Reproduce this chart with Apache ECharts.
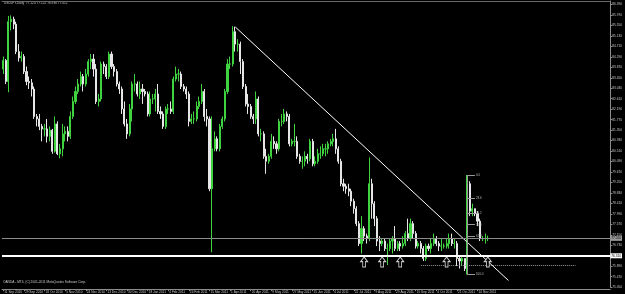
<!DOCTYPE html>
<html><head><meta charset="utf-8">
<script src="https://cdn.jsdelivr.net/npm/echarts@6/dist/echarts.min.js"></script>
<style>html,body{margin:0;padding:0;background:#000;}#c{width:625px;height:294px;}</style>
</head><body><div id="c"></div>
<script>
// Date labels of the time scale (one every 8 candles)
const tickLabels = ['11 Sep 2010','29 Sep 2010','18 Oct 2010','5 Nov 2010','24 Nov 2010','13 Dec 2010','30 Dec 2010','18 Jan 2011','4 Feb 2011','24 Feb 2011','15 Mar 2011','1 Apr 2011','20 Apr 2011','9 May 2011','27 May 2011','15 Jun 2011','4 Jul 2011','22 Jul 2011','9 Aug 2011','29 Aug 2011','15 Sep 2011','4 Oct 2011','21 Oct 2011','10 Nov 2011'];
const labelEvery = 8;
const slotCount = 236;
// USDJPY candles [open, close, low, high]
const candles = [
[83.80,84.15,83.60,84.30],[84.15,83.30,83.20,84.20],[83.30,85.70,82.87,85.93],[85.70,85.80,85.35,85.95],
[85.80,85.60,85.40,85.90],[85.60,84.50,84.40,85.70],[84.50,84.25,84.10,84.80],[84.25,84.30,84.10,84.50],
[84.30,83.70,83.60,84.40],[83.70,83.30,83.15,83.90],[83.30,83.25,83.00,83.50],[83.25,83.00,82.70,83.40],
[83.00,81.90,81.80,83.10],[81.90,81.80,81.50,82.00],[81.80,81.50,81.35,82.00],[81.50,81.40,80.90,81.60],
[81.40,81.40,81.10,81.60],[81.40,81.10,80.85,81.80],[81.10,81.35,80.90,81.50],[81.35,80.50,80.40,81.40],
[80.50,81.60,80.45,81.90],[81.60,80.40,80.35,81.70],[80.40,80.60,80.22,80.80],[80.60,81.20,80.30,81.60],
[81.20,81.30,80.90,81.50],[81.30,81.10,80.90,81.50],[81.10,81.90,81.00,82.10],[81.90,82.50,81.80,82.70],
[82.50,82.90,82.40,83.10],[82.90,83.20,82.80,83.40],[83.20,83.50,83.10,83.70],[83.50,83.20,82.90,83.60],
[83.20,83.60,83.10,83.80],[83.60,84.10,83.50,84.20],[84.10,84.20,83.80,84.40],[84.20,83.80,83.50,84.40],
[83.80,82.50,82.40,84.00],[82.50,82.60,82.30,82.80],[82.60,84.00,82.50,84.10],[84.00,83.90,83.60,84.10],
[83.90,83.50,83.40,84.00],[83.50,84.40,83.40,84.50],[84.40,83.90,83.80,84.50],[83.90,83.70,83.50,84.00],
[83.70,83.20,83.10,83.80],[83.20,83.00,82.80,83.30],[83.00,82.20,82.00,83.10],[82.20,81.60,81.50,82.50],
[81.60,81.20,81.00,81.80],[81.20,82.20,81.10,82.40],[82.20,83.20,81.70,83.30],[83.20,83.20,82.90,83.60],
[83.20,82.80,82.70,83.30],[82.80,83.00,82.60,83.30],[83.00,82.90,82.40,83.20],[82.90,82.80,82.70,83.00],
[82.80,82.00,81.90,82.90],[82.00,82.60,81.90,82.90],[82.60,82.60,82.40,82.80],[82.60,82.80,82.10,83.00],
[82.80,82.10,82.00,83.20],[82.10,82.00,81.80,82.30],[82.00,81.50,81.40,82.10],[81.50,82.20,81.40,82.30],
[82.20,82.20,82.00,82.40],[82.20,82.10,82.00,82.50],[82.10,83.40,82.00,83.50],[83.40,83.60,83.30,83.90],
[83.60,83.60,83.30,83.80],[83.60,83.10,83.00,83.70],[83.10,83.00,82.90,83.20],[83.00,82.80,82.60,83.10],
[82.80,81.70,81.50,82.90],[81.70,81.80,81.60,82.00],[81.80,81.80,81.60,82.10],[81.80,82.30,81.70,82.50],
[82.30,82.50,82.20,82.70],[82.50,82.90,82.40,83.20],[82.90,81.90,81.70,83.00],[81.90,81.80,81.50,82.20],
[81.80,79.00,78.90,81.90],[79.00,80.60,76.45,81.90],[80.60,81.00,80.50,81.30],[81.00,80.60,80.50,81.10],
[80.60,81.50,80.50,81.60],[81.50,81.80,81.40,81.90],[81.80,82.90,81.70,83.00],[82.90,84.00,82.80,84.20],
[84.00,84.00,83.80,84.30],[84.00,85.30,83.90,85.52],[85.30,84.80,84.50,85.50],[84.80,84.80,84.50,85.00],
[84.80,84.10,83.60,84.90],[84.10,83.10,83.00,84.20],[83.10,82.40,82.30,83.20],[82.40,82.30,82.00,82.80],
[82.30,81.90,81.80,82.40],[81.90,81.80,81.60,82.00],[81.80,82.60,81.60,82.90],[82.60,81.20,81.10,82.70],
[81.20,81.20,80.90,81.40],[81.20,80.30,80.20,81.30],[80.30,80.10,79.60,80.60],[80.10,80.30,80.00,80.40],
[80.30,80.90,80.20,81.20],[80.90,80.80,80.60,81.10],[80.80,80.60,80.40,80.90],[80.60,81.70,80.50,81.80],
[81.70,81.70,81.50,82.00],[81.70,82.00,81.60,82.20],[82.00,81.90,81.70,82.10],[81.90,80.80,80.70,82.00],
[80.80,80.90,80.70,81.00],[80.90,80.90,80.70,81.60],[80.90,80.30,80.20,81.10],[80.30,80.10,80.00,80.40],
[80.10,80.10,79.80,80.30],[80.10,80.30,79.90,80.50],[80.30,80.20,80.00,80.40],[80.20,80.90,80.10,81.00],
[80.90,80.00,79.90,81.00],[80.00,80.10,79.90,80.30],[80.10,80.40,80.00,80.60],[80.40,80.40,80.20,80.70],
[80.40,80.60,80.30,80.80],[80.60,80.60,80.30,80.80],[80.60,80.80,80.40,80.90],[80.80,80.90,80.70,81.00],
[80.90,81.00,80.70,81.20],[81.00,80.60,80.40,81.40],[80.60,80.10,80.00,80.70],[80.10,79.20,79.10,80.20],
[79.20,79.10,78.90,79.40],[79.10,79.00,78.80,79.20],[79.00,78.90,78.70,79.20],[78.90,78.50,78.30,79.00],
[78.50,78.20,78.00,78.60],[78.20,77.60,77.50,78.30],[77.60,76.80,76.70,77.70],[76.80,77.40,76.40,77.90],
[77.40,77.10,76.90,77.50],[77.10,77.00,76.80,77.20],[77.00,79.20,76.90,80.25],[79.20,78.40,77.80,79.40],
[78.40,77.80,77.50,78.50],[77.80,76.90,76.70,77.90],[76.90,76.80,76.50,77.10],[76.80,76.90,76.70,77.00],
[76.90,76.60,76.50,77.00],[76.60,76.60,75.94,76.80],[76.60,76.90,76.50,77.00],[76.90,77.00,76.40,77.10],
[77.00,76.60,76.50,77.50],[76.60,76.80,76.50,76.90],[76.80,76.70,76.50,76.90],[76.70,76.80,76.60,77.10],
[76.80,77.20,76.70,77.30],[77.20,77.00,76.90,77.80],[77.00,77.60,76.90,77.80],[77.60,77.20,77.00,77.70],
[77.20,76.70,76.60,77.30],[76.70,76.80,76.60,76.90],[76.80,76.60,76.40,76.90],[76.60,76.20,76.10,76.70],
[76.20,76.70,76.10,76.80],[76.70,76.60,76.50,76.80],[76.60,76.80,76.40,77.00],[76.80,77.00,76.70,77.20],
[77.00,76.80,76.70,77.10],[76.80,76.70,76.50,76.90],[76.70,76.70,76.50,77.00],[76.70,76.70,76.60,76.80],
[76.70,76.80,76.60,77.00],[76.80,77.00,76.60,77.20],[77.00,76.80,76.70,77.20],[76.80,76.80,76.60,77.00],
[76.80,76.20,75.90,76.90],[76.20,76.10,75.80,76.30],[76.10,76.20,75.90,76.30],[76.20,75.80,75.70,76.20],
[75.80,79.20,75.56,79.55],[79.20,78.10,77.90,79.30],[78.10,78.20,77.90,78.40],[78.20,78.00,77.90,78.20],
[78.00,77.70,77.50,78.10],[77.70,77.00,76.90,77.80],[77.00,77.00,76.90,77.10],[77.00,77.00,76.80,77.20],
[77.00,77.01,76.90,77.12]
];
// Drawn objects
const bidLevel = 77.01;
const supportLevel = 76.31;
const dottedLevel = 75.94;
const trendStart = [90, 85.49];
const trendEnd = [196, 75.32];
const arrowBars = [140, 147, 154, 172, 188];
const arrowPrices = [76.06, 76.06, 76.06, 76.06, 76.06];
const fibBar = 180;
const fibHigh = 79.55, fibLow = 75.56;
const fibLevels = [0, 23.6, 38.2, 50.0, 61.8, 100.0];
// Price scale
const priceMin = 75.05, priceMax = 86.53, priceStep = 0.42;

const categories = Array.from({length: slotCount}, (_, i) => 'b' + i);
const showTick = (i) => i % labelEvery === 0 && i / labelEvery < tickLabels.length;
const FONT = 'Liberation Sans';
const txt = '#c8c8c8';

const ls = (color, width, type) => ({color: color, width: width, type: type || 'solid', opacity: 1});
const seg = (a, b, style, extra) => [Object.assign({coord: a, lineStyle: style}, extra || {}), Object.assign({coord: b, lineStyle: style}, extra || {})];
const markData = [
  seg([162, dottedLevel], [222, dottedLevel], ls('#9a9a9a', 1, [1, 1])),
  seg(trendStart, trendEnd, ls('#ffffff', 1)),
  seg([fibBar, fibHigh], [fibBar, fibLow], ls('#9a9a9a', 1))
];
fibLevels.forEach(l => {
  const p = fibHigh - (fibHigh - fibLow) * l / 100;
  markData.push(seg([fibBar, p], [fibBar + 3, p], ls('#9a9a9a', 1),
    {label: {show: true, position: 'end', formatter: l.toFixed(1), color: '#bdbdbd', fontSize: 3, fontFamily: FONT, distance: 1}}));
});

const chart = echarts.init(document.getElementById('c'), null, {renderer: 'canvas'});
chart.setOption({
  backgroundColor: '#000000',
  animation: false,
  grid: {left: 2, right: 13, top: 1, bottom: 6.8},
  xAxis: [{
    type: 'category', data: categories, boundaryGap: true, offset: 2,
    axisLine: {lineStyle: {color: '#8c8c8c'}},
    axisTick: {show: true, interval: showTick, alignWithLabel: true, length: 2, lineStyle: {color: '#8c8c8c'}},
    axisLabel: {interval: showTick, formatter: (v, i) => tickLabels[i / labelEvery] || '', color: txt, fontSize: 3.2,
      fontFamily: FONT, align: 'left', margin: 1, padding: [0, 0, 0, 1]},
    splitLine: {show: false}
  }, {
    type: 'category', data: categories, position: 'top',
    axisLine: {lineStyle: {color: '#6a6a6a'}}, axisTick: {show: false}, axisLabel: {show: false}
  }],
  yAxis: {
    type: 'value', position: 'right', min: priceMin, max: priceMax, interval: priceStep, scale: true,
    axisLine: {show: true, lineStyle: {color: '#8c8c8c'}},
    axisTick: {show: true, length: 2, lineStyle: {color: '#8c8c8c'}},
    axisLabel: {color: txt, fontSize: 3.2, fontFamily: FONT, margin: 2, showMaxLabel: false,
      formatter: v => v.toFixed(3)},
    splitLine: {show: false}
  },
  graphic: [
    {type: 'text', left: 4, top: 2, style: {text: 'USDJPY,Daily  77.124 77.122 76.936 77.012', fill: txt, fontSize: 3.2, fontFamily: FONT}},
    {type: 'text', left: 3, top: 281, style: {text: 'OANDA - MT4, (C) 2001-2011 MetaQuotes Software Corp.', fill: txt, fontSize: 3.2, fontFamily: FONT}}
  ],
  series: [{
    type: 'candlestick', data: candles, barWidth: 1.6,
    itemStyle: {color: '#3fd43f', color0: '#e6e6e6', borderColor: '#3fd43f', borderColor0: '#e6e6e6', borderWidth: 1},
    markLine: {silent: true, symbol: 'none', animation: false, label: {show: false},
      lineStyle: {type: 'solid'}, data: markData}
  }, {
    type: 'scatter', data: arrowBars.map((b, i) => [b, arrowPrices[i]]),
    symbol: 'path://M5,0 L10,5 L7,5 L7,11 L3,11 L3,5 L0,5 Z', symbolSize: [7, 10],
    itemStyle: {color: '#000000', borderColor: '#ffffff', borderWidth: 1}, z: 5
  }, {
    type: 'line', data: [], markLine: {silent: true, symbol: 'none', data: [
      {yAxis: bidLevel, lineStyle: ls('#8c8c8c', 1), label: {show: true, position: 'end', distance: 0, formatter: bidLevel.toFixed(3), color: '#000', backgroundColor: '#9a9a9a', fontSize: 3.2, fontFamily: FONT, padding: [1, 1]}},
      {yAxis: supportLevel, lineStyle: ls('#ffffff', 2), label: {show: true, position: 'end', distance: 0, formatter: supportLevel.toFixed(3), color: '#000', backgroundColor: '#ffffff', fontSize: 3.2, fontFamily: FONT, padding: [1, 1]}}
    ]}
  }]
});
</script></body></html>
